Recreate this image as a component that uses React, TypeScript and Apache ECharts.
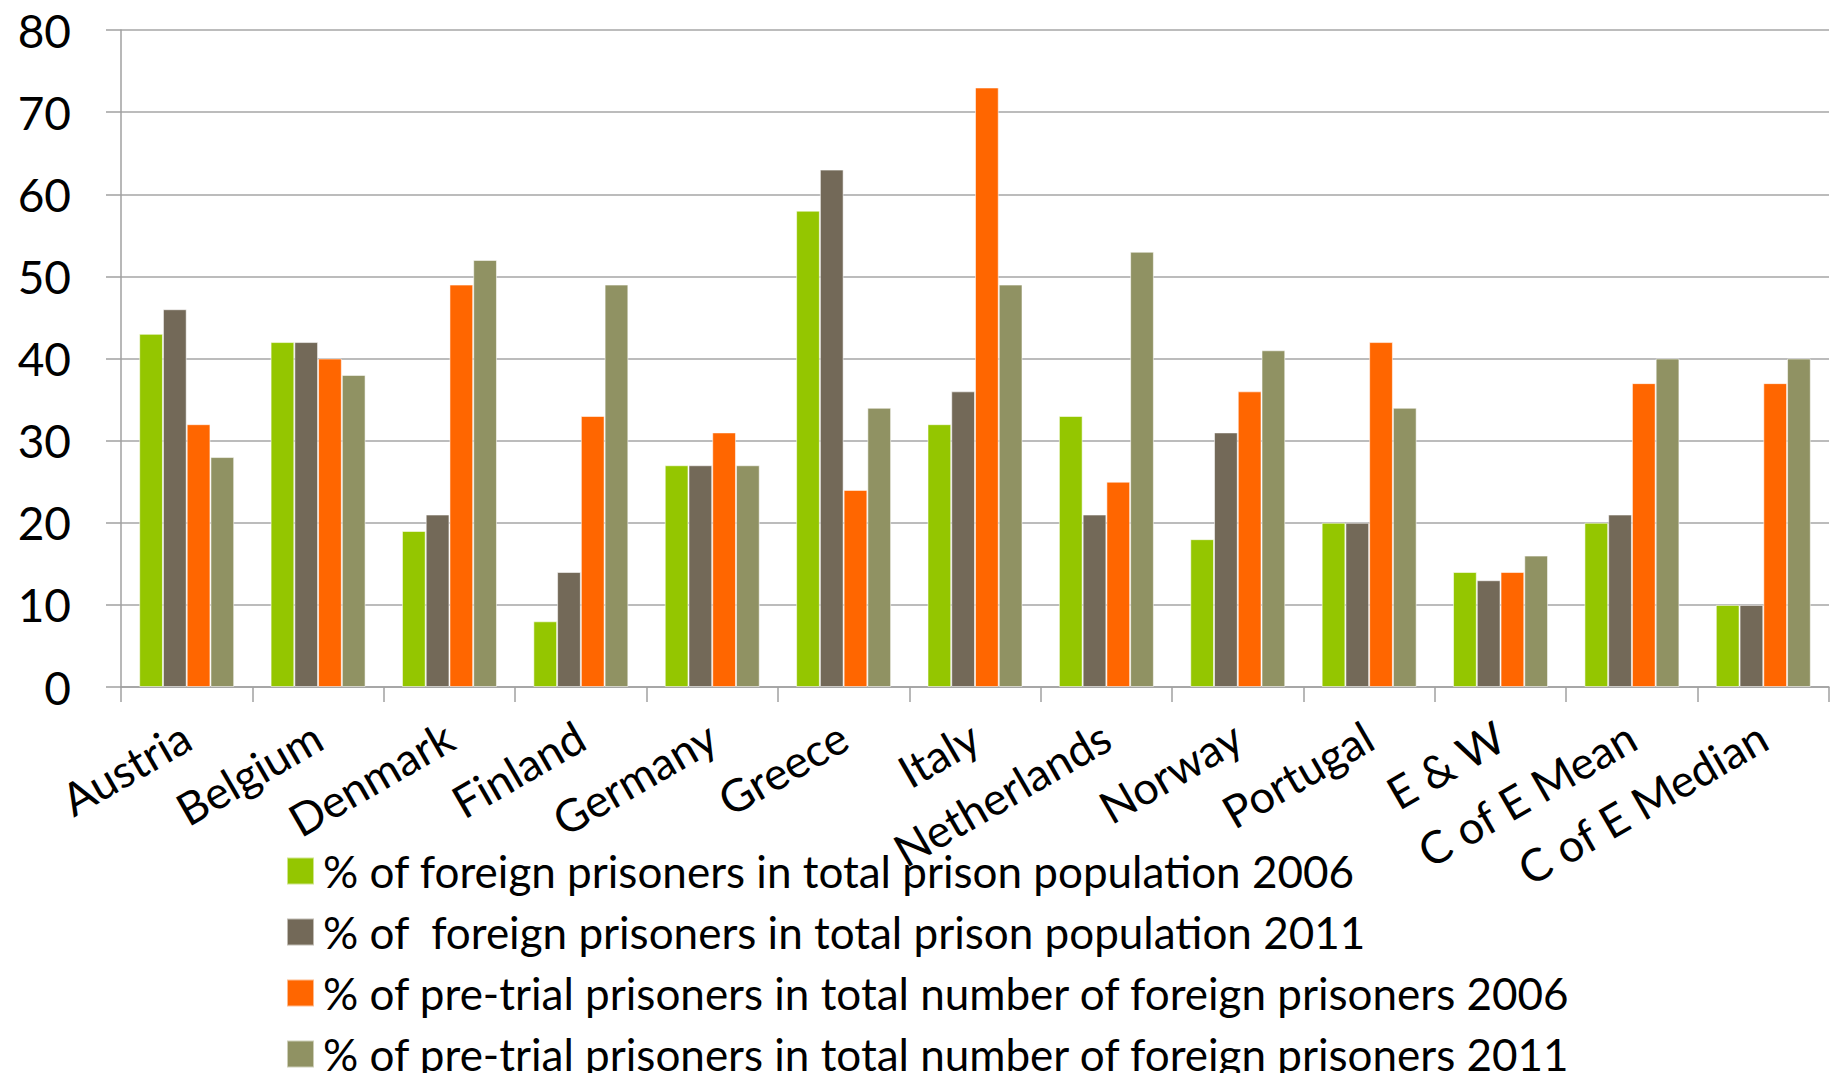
import React, { useEffect, useRef } from "react";
import * as echarts from "echarts";

const categories = [
  "Austria",
  "Belgium",
  "Denmark",
  "Finland",
  "Germany",
  "Greece",
  "Italy",
  "Netherlands",
  "Norway",
  "Portugal",
  "E & W",
  "C of E Mean",
  "C of E Median",
];

const seriesNames = [
  "% of foreign prisoners in total prison population 2006",
  "% of  foreign prisoners in total prison population 2011",
  "% of pre-trial prisoners in total number of foreign prisoners 2006",
  "% of pre-trial prisoners in total number of foreign prisoners 2011",
];

const foreign2006 = [43, 42, 19, 8, 27, 58, 32, 33, 18, 20, 14, 20, 10];
const foreign2011 = [46, 42, 21, 14, 27, 63, 36, 21, 31, 20, 13, 21, 10];
const pretrial2006 = [32, 40, 49, 33, 31, 24, 73, 25, 36, 42, 14, 37, 37];
const pretrial2011 = [28, 38, 52, 49, 27, 34, 49, 53, 41, 34, 16, 40, 40];

const seriesColors = ["#94c600", "#736958", "#ff6600", "#909263"];

const FONT = "Lato, 'Open Sans', sans-serif";

export default function App() {
  const ref = useRef<HTMLDivElement>(null);

  useEffect(() => {
    if (!ref.current) return;
    const chart = echarts.init(ref.current, undefined, { renderer: "svg" });
    const values = [foreign2006, foreign2011, pretrial2006, pretrial2011];
    chart.setOption({
      animation: false,
      backgroundColor: "#ffffff",
      textStyle: { fontFamily: FONT, color: "#000" },
      grid: { left: 121, right: 12, top: 30, bottom: 394, containLabel: false },
      legend: {
        orient: "vertical",
        left: 281,
        top: 844,
        height: 280,
        itemWidth: 27,
        itemHeight: 27,
        itemGap: 17,
        icon: "rect",
        selectedMode: false,
        textStyle: {
          fontFamily: FONT,
          fontSize: 44,
          color: "#000",
          lineHeight: 42,
          padding: [0, 0, 0, 4],
        },
        data: seriesNames,
      },
      xAxis: {
        type: "category",
        data: categories,
        axisLine: { show: true, lineStyle: { color: "#a0a0a0", width: 1.5 } },
        axisTick: { show: true, length: 15, alignWithLabel: false, lineStyle: { color: "#a0a0a0", width: 1.5 } },
        axisLabel: {
          interval: 0,
          rotate: 30,
          margin: 46,
          fontSize: 45,
          fontFamily: FONT,
          color: "#000",
        },
      },
      yAxis: {
        type: "value",
        min: 0,
        max: 80,
        interval: 10,
        axisLine: { show: true, lineStyle: { color: "#a0a0a0", width: 1.5 } },
        axisTick: { show: true, length: 15, lineStyle: { color: "#a0a0a0", width: 1.5 } },
        splitLine: { show: true, lineStyle: { color: "#a6a6a6", width: 1.5 } },
        axisLabel: { margin: 50, fontSize: 46, fontFamily: FONT, color: "#000" },
      },
      series: seriesNames.map((name, i) => ({
        name,
        type: "bar",
        data: values[i],
        barGap: "0%",
        barCategoryGap: "27.7%",
        itemStyle: {
          color: seriesColors[i],
          borderColor: "rgba(255,255,255,0.55)",
          borderWidth: 1,
        },
      })),
    });
    return () => chart.dispose();
  }, []);

  return <div ref={ref} style={{ width: 1841, height: 1081, margin: -8 }} />;
}
